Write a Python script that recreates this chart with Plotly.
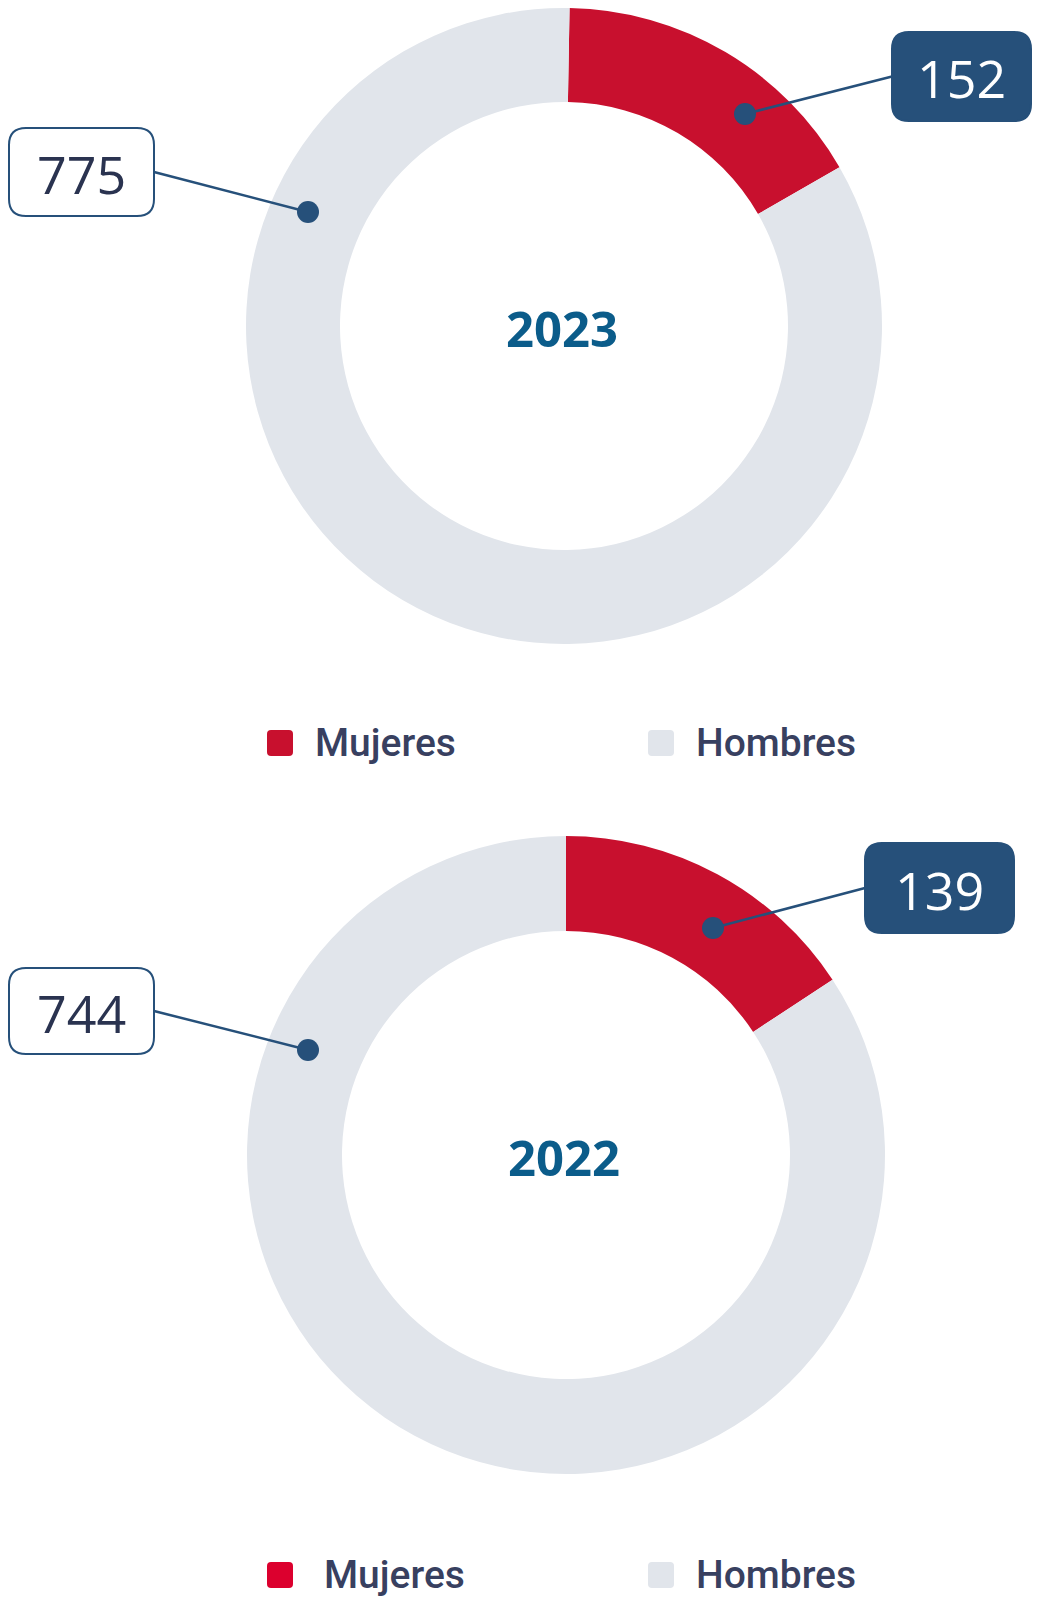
import plotly.graph_objects as go

# ---------------- data ----------------
years = ["2023", "2022"]
categories = ["Mujeres", "Hombres"]
mujeres = [152, 139]
hombres = [775, 744]

# ---------------- styles ----------------
PAGE_W, PAGE_H = 1040, 1599
OFF = 8  # browser body margin
W, H = PAGE_W - 2 * OFF, PAGE_H - OFF  # visible area of the plot div
X_END, Y_END = OFF + W, OFF + H
pie_colors = ["#C8102E", "#E1E5EB"]
legend_reds = ["#C8102E", "#DC002E"]
legend_grey = "#E1E5EB"
navy = "#26507A"
label_dark = "#2A3350"
year_color = "#0B5C8A"
legend_text = "#384060"

# per-chart layout (page pixels): center, outer radius, inner radius, rotation
centers = [(564, 326), (566, 1155)]
radii = [318, 319]
inner = [224, 224]
rotations = [1, 0]
# callouts: (box x0,y0,x1,y1, dot x,y, filled?)
callouts = [
    [((9, 128, 154, 216), (308, 212), False), ((892, 32, 1031, 121), (745, 114), True)],
    [((9, 968, 154, 1054), (308, 1050), False), ((865, 843, 1014, 933), (713, 928), True)],
]
legend_y = [743, 1575]
legend_sq_x = [267, 648]
legend_text_x = [[313, 694], [322, 694]]

fig = go.Figure()

for i, yr in enumerate(years):
    cx, cy = centers[i]
    r = radii[i]
    fig.add_trace(go.Pie(
        labels=categories,
        values=[mujeres[i], hombres[i]],
        sort=False,
        direction="clockwise",
        rotation=rotations[i],
        hole=inner[i] / r,
        marker=dict(colors=pie_colors, line=dict(width=0)),
        textinfo="none",
        hoverinfo="label+value",
        showlegend=False,
        domain=dict(x=[max(0, (cx - r - OFF) / W), min(1, (cx + r - OFF) / W)],
                    y=[max(0, 1 - (cy + r - OFF) / H), min(1, 1 - (cy - r - OFF) / H)]),
    ))

# invisible pixel axes for overlays
fig.add_trace(go.Scatter(x=[OFF, X_END], y=[OFF, Y_END], mode="markers",
                         marker=dict(opacity=0), hoverinfo="skip", showlegend=False))


def rrect(x0, y0, x1, y1, r):
    return (f"M{x0+r},{y0} L{x1-r},{y0} Q{x1},{y0} {x1},{y0+r} "
            f"L{x1},{y1-r} Q{x1},{y1} {x1-r},{y1} L{x0+r},{y1} "
            f"Q{x0},{y1} {x0},{y1-r} L{x0},{y0+r} Q{x0},{y0} {x0+r},{y0} Z")


shapes = []
annotations = []
for i, yr in enumerate(years):
    cx, cy = centers[i]
    annotations.append(dict(x=cx - 2, y=cy + 2, xref="x", yref="y", text=f"<b>{yr}</b>",
                            showarrow=False,
                            font=dict(family="Noto Sans", size=49, color=year_color)))
    for k, ((x0, y0, x1, y1), (dx, dy), filled) in enumerate(callouts[i]):
        val = hombres[i] if k == 0 else mujeres[i]
        ly = (y0 + y1) / 2
        lx = x1 if k == 0 else x0
        shapes.append(dict(type="line", xref="x", yref="y", x0=lx, y0=ly, x1=dx, y1=dy,
                           line=dict(color=navy, width=2.5), layer="above"))
        shapes.append(dict(type="path", xref="x", yref="y", path=rrect(x0, y0, x1, y1, 17),
                           fillcolor=navy if filled else "white",
                           line=dict(color=navy, width=2), layer="above"))
        shapes.append(dict(type="circle", xref="x", yref="y",
                           x0=dx - 11, x1=dx + 11, y0=dy - 11, y1=dy + 11,
                           fillcolor=navy, line=dict(width=0), layer="above"))
        annotations.append(dict(x=(x0 + x1) / 2, y=ly + 1, xref="x", yref="y", text=str(val),
                                showarrow=False,
                                font=dict(family="Open Sans", size=52,
                                          color="white" if filled else label_dark)))
    ly = legend_y[i]
    sq_cols = [legend_reds[i], legend_grey]
    for k, cat in enumerate(categories):
        sx = legend_sq_x[k]
        shapes.append(dict(type="path", xref="x", yref="y",
                           path=rrect(sx, ly - 13, sx + 26, ly + 13, 4),
                           fillcolor=sq_cols[k], line=dict(width=0), layer="above"))
        annotations.append(dict(x=legend_text_x[i][k], y=ly, xref="x", yref="y", text=cat,
                                showarrow=False, xanchor="left",
                                font=dict(family="Roboto", size=39, color=legend_text,
                                          weight=500)))

fig.update_layout(
    width=W, height=H,
    margin=dict(l=0, r=0, t=0, b=0),
    paper_bgcolor="white", plot_bgcolor="rgba(0,0,0,0)",
    xaxis=dict(range=[OFF, X_END], visible=False, fixedrange=True),
    yaxis=dict(range=[Y_END, OFF], visible=False, fixedrange=True),
    shapes=shapes,
    annotations=annotations,
    showlegend=False,
)

fig.write_html("out.html")
